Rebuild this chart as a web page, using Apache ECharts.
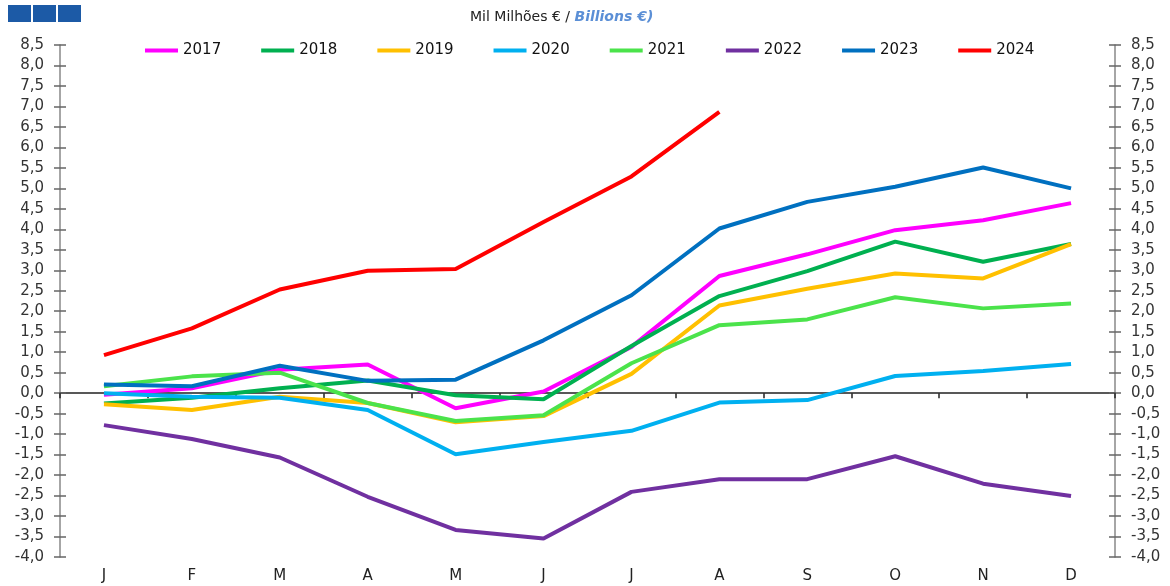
<!DOCTYPE html>
<html>
<head>
<meta charset="utf-8">
<script src="https://cdn.jsdelivr.net/npm/echarts@6/dist/echarts.min.js"></script>
<style>
  html, body { margin: 0; padding: 0; background: #fff; }
  #chart { width: 1170px; height: 586px; }
</style>
</head>
<body>
<div id="chart"></div>
<script>
  // months and year series (mil milhões €)
  var months = ['J', 'F', 'M', 'A', 'M', 'J', 'J', 'A', 'S', 'O', 'N', 'D'];
  var years = ['2017', '2018', '2019', '2020', '2021', '2022', '2023', '2024'];
  var colors = ['#ff00ff', '#00b050', '#ffc000', '#00b0f0', '#4be34b', '#7030a0', '#0070c0', '#ff0000'];

  var y2017 = [-0.04, 0.12, 0.57, 0.70, -0.37, 0.04, 1.13, 2.86, 3.39, 3.98, 4.22, 4.64];
  var y2018 = [-0.25, -0.11, 0.12, 0.31, -0.05, -0.15, 1.15, 2.37, 2.98, 3.70, 3.21, 3.64];
  var y2019 = [-0.27, -0.41, -0.09, -0.24, -0.71, -0.56, 0.47, 2.14, 2.55, 2.92, 2.80, 3.64];
  var y2020 = [0.00, -0.09, -0.11, -0.41, -1.49, -1.19, -0.92, -0.23, -0.17, 0.42, 0.54, 0.71];
  var y2021 = [0.17, 0.41, 0.50, -0.24, -0.68, -0.54, 0.73, 1.66, 1.80, 2.34, 2.07, 2.19];
  var y2022 = [-0.78, -1.12, -1.57, -2.53, -3.34, -3.55, -2.41, -2.10, -2.10, -1.54, -2.21, -2.51];
  var y2023 = [0.21, 0.17, 0.67, 0.30, 0.33, 1.29, 2.39, 4.02, 4.67, 5.04, 5.51, 5.00];
  var y2024 = [0.93, 1.58, 2.53, 2.99, 3.03, 4.18, 5.29, 6.87];

  var values = [y2017, y2018, y2019, y2020, y2021, y2022, y2023, y2024];

  var font = '"DejaVu Sans", Verdana, sans-serif';

  function fmt(v) {
    return v.toFixed(1).replace('.', ',');
  }

  function valueAxis(pos, showLabel, inside) {
    return {
      type: 'value',
      position: pos,
      min: -4,
      max: 8.5,
      interval: 0.5,
      splitLine: { show: false },
      axisLine: { show: showLabel, onZero: false, lineStyle: { color: '#888', width: 1.5 } },
      axisTick: { show: true, inside: inside, length: 6, lineStyle: { color: '#666', width: 1.5 } },
      axisLabel: {
        show: showLabel,
        formatter: fmt,
        fontFamily: font,
        fontSize: 15,
        color: '#333',
        margin: 16
      }
    };
  }

  var series = years.map(function (y, i) {
    return {
      name: y,
      type: 'line',
      data: values[i],
      xAxisIndex: 0,
      yAxisIndex: 0,
      symbol: 'none',
      lineStyle: { width: 4, color: colors[i] },
      itemStyle: { color: colors[i] },
      z: 3 + i
    };
  });

  var chart = echarts.init(document.getElementById('chart'), null, { renderer: 'canvas' });
  chart.setOption({
    animation: false,
    backgroundColor: '#fff',
    graphic: [
      { type: 'rect', shape: { x: 8, y: 5, width: 23, height: 17 }, style: { fill: '#1c5aa6' } },
      { type: 'rect', shape: { x: 33, y: 5, width: 23, height: 17 }, style: { fill: '#1c5aa6' } },
      { type: 'rect', shape: { x: 58, y: 5, width: 23, height: 17 }, style: { fill: '#1c5aa6' } },
      {
        type: 'text',
        left: 470,
        top: 10,
        style: {
          text: '{a|Mil Milhões € / }{b|Billions €)}',
          rich: {
            a: { fontFamily: font, fontSize: 14, fill: '#222' },
            b: { fontFamily: font, fontSize: 14, fontStyle: 'italic', fontWeight: 'bold', fill: '#5b8fd6' }
          }
        }
      }
    ],
    legend: {
      data: years,
      left: 140,
      top: 38,
      icon: 'rect',
      itemWidth: 33,
      itemHeight: 4,
      itemGap: 40,
      textStyle: { fontFamily: font, fontSize: 15, color: '#111' }
    },
    grid: { left: 60, right: 55, top: 45, bottom: 29 },
    xAxis: [
      {
        type: 'category',
        data: months,
        position: 'bottom',
        boundaryGap: true,
        axisLine: { show: false },
        axisTick: { show: false },
        axisLabel: { fontFamily: font, fontSize: 15, color: '#222', margin: 12 }
      },
      {
        type: 'category',
        data: months,
        position: 'top',
        boundaryGap: true,
        axisLine: { show: true, onZero: true, onZeroAxisIndex: 0, lineStyle: { color: '#222', width: 1.5 } },
        axisTick: { show: true, inside: true, length: 5, lineStyle: { color: '#222', width: 1.5 } },
        axisLabel: { show: false }
      }
    ],
    yAxis: [
      valueAxis('left', true, false),
      valueAxis('right', true, false),
      valueAxis('left', false, true),
      valueAxis('right', false, true)
    ],
    series: series
  });
</script>
</body>
</html>
